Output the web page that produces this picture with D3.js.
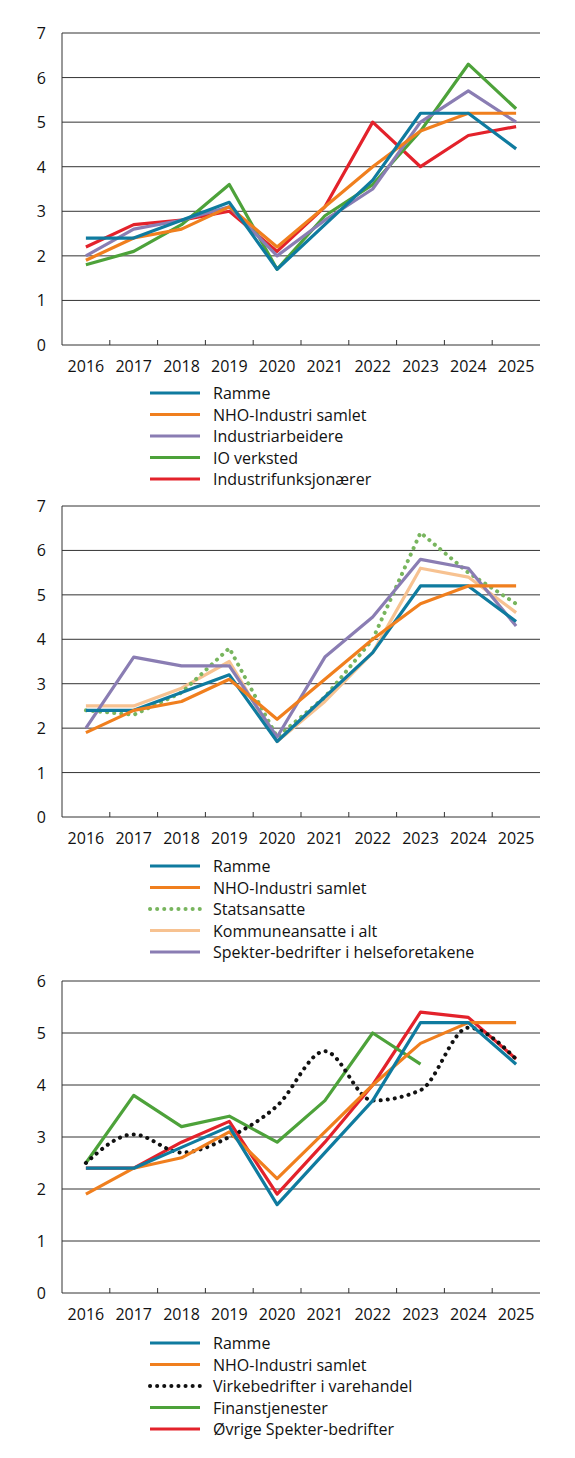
<!DOCTYPE html><html><head><meta charset="utf-8"><script src="https://cdn.jsdelivr.net/npm/d3@7"></script>
<style>body{margin:0;background:#fff}svg text{font-family:"Open Sans","Noto Sans",sans-serif;fill:#111}</style></head><body><svg id="c" width="575" height="1458"></svg><script>
const years=["2016","2017","2018","2019","2020","2021","2022","2023","2024","2025"];
const ramme=[2.4,2.4,2.8,3.2,1.7,2.7,3.7,5.2,5.2,4.4];
const nho=[1.9,2.4,2.6,3.1,2.2,3.1,4.0,4.8,5.2,5.2];
const indArb=[2.0,2.6,2.8,3.1,2.0,2.8,3.5,5.0,5.7,5.0];
const ioVerk=[1.8,2.1,2.7,3.6,1.7,2.9,3.6,4.8,6.3,5.3];
const indFunk=[2.2,2.7,2.8,3.0,2.1,3.1,5.0,4.0,4.7,4.9];
const stat=[2.4,2.3,2.8,3.8,1.8,2.7,4.0,6.4,5.5,4.8];
const komm=[2.5,2.5,2.9,3.5,1.7,2.6,3.7,5.6,5.4,4.6];
const spHelse=[2.0,3.6,3.4,3.4,1.8,3.6,4.5,5.8,5.6,4.3];
const virke=[2.5,3.05,2.7,3.0,3.6,4.65,3.7,3.9,5.1,4.5];
const finans=[2.5,3.8,3.2,3.4,2.9,3.7,5.0,4.4,null,null];
const ovrige=[2.4,2.4,2.9,3.3,1.9,2.9,4.0,5.4,5.3,4.5];
const C={ramme:"#0f7b9f",nho:"#f07f1e",purple:"#8a7db3",green:"#4da23a",red:"#e3222b",lgreen:"#78b55e",peach:"#f7c291",black:"#111"};
const panels=[
 {top:33,bot:345,max:7,leg:393,series:[
  ["Ramme",ramme,C.ramme],["NHO-Industri samlet",nho,C.nho],["Industriarbeidere",indArb,C.purple],["IO verksted",ioVerk,C.green],["Industrifunksjonærer",indFunk,C.red]]},
 {top:506,bot:817,max:7,leg:866,series:[
  ["Ramme",ramme,C.ramme],["NHO-Industri samlet",nho,C.nho],["Statsansatte",stat,C.lgreen,true],["Kommuneansatte i alt",komm,C.peach],["Spekter-bedrifter i helseforetakene",spHelse,C.purple]],order:[3,2,4,0,1]},
 {top:981,bot:1293,max:6,leg:1343,series:[
  ["Ramme",ramme,C.ramme],["NHO-Industri samlet",nho,C.nho],["Virkebedrifter i varehandel",virke,C.black,true,true],["Finanstjenester",finans,C.green],["Øvrige Spekter-bedrifter",ovrige,C.red]]}
];
const svg=d3.select("#c");
const x=d3.scaleBand().domain(years).range([62,540]);
panels.forEach(p=>{
 const y=d3.scaleLinear().domain([0,p.max]).range([p.bot,p.top]);
 const g=svg.append("g");
 d3.range(1,p.max+1).forEach(v=>g.append("line").attr("x1",62).attr("x2",540).attr("y1",y(v)).attr("y2",y(v)).attr("stroke","#333").attr("stroke-width",1));
 g.append("line").attr("x1",62).attr("x2",62).attr("y1",p.top).attr("y2",p.bot).attr("stroke","#333");
 g.append("line").attr("x1",62).attr("x2",540).attr("y1",p.bot).attr("y2",p.bot).attr("stroke","#333");
 years.slice(1).forEach(yr=>g.append("line").attr("x1",x(yr)).attr("x2",x(yr)).attr("y1",p.bot).attr("y2",p.bot-5).attr("stroke","#333"));
 d3.range(0,p.max+1).forEach(v=>g.append("text").attr("x",46).attr("y",y(v)+6).attr("text-anchor","end").attr("font-size",16).text(v));
 years.forEach(yr=>g.append("text").attr("x",x(yr)+x.bandwidth()/2).attr("y",p.bot+27).attr("text-anchor","middle").attr("font-size",16).text(yr));
 const order=p.order||[4,3,2,1,0];
 order.forEach(i=>{const s=p.series[i];
  const line=d3.line().defined(d=>d!=null).x((d,j)=>x(years[j])+x.bandwidth()/2).y(d=>y(d));
  if(s[4])line.curve(d3.curveMonotoneX);
  g.append("path").attr("d",line(s[1])).attr("fill","none").attr("stroke",s[2]).attr("stroke-width",s[3]?4:3.2)
   .attr("stroke-dasharray",s[3]?"0.1 7":null).attr("stroke-linecap",s[3]?"round":"butt").attr("stroke-linejoin","round");
 });
 p.series.forEach((s,i)=>{const ly=p.leg+i*21.5;
  g.append("line").attr("x1",150).attr("x2",200).attr("y1",ly).attr("y2",ly).attr("stroke",s[2]).attr("stroke-width",s[3]?4:3.2)
   .attr("stroke-dasharray",s[3]?"0.1 7":null).attr("stroke-linecap",s[3]?"round":"butt");
  g.append("text").attr("x",213).attr("y",ly+6).attr("font-size",16).text(s[0]);
 });
});
</script></body></html>
